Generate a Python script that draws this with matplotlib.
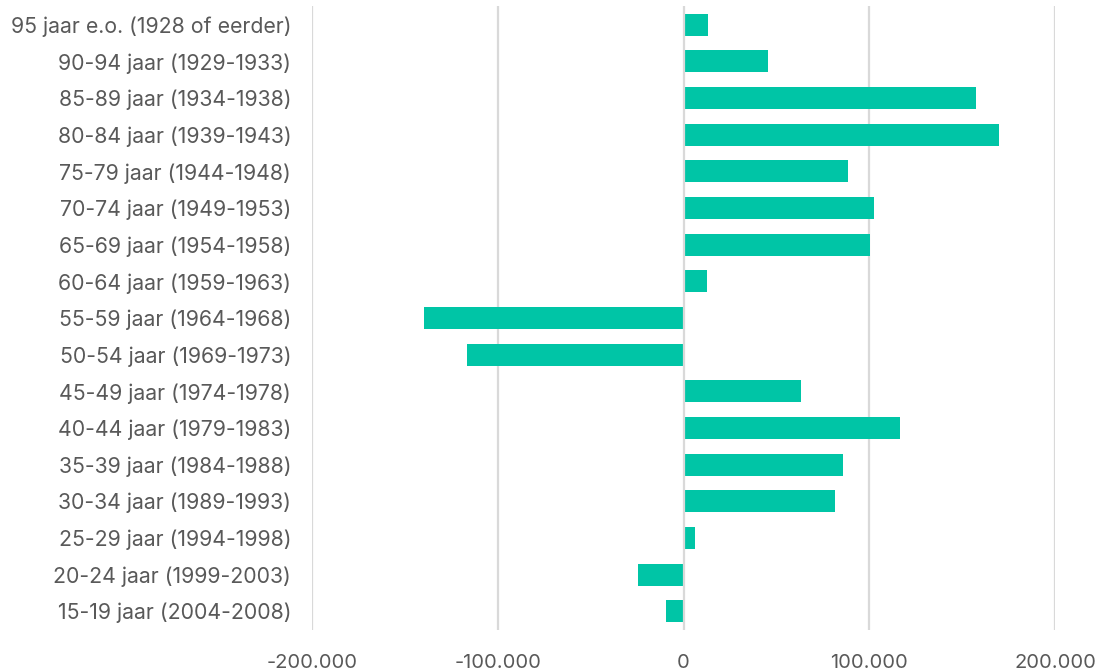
import matplotlib
matplotlib.use('Agg')
import matplotlib.pyplot as plt
from matplotlib.ticker import FuncFormatter

# leeftijdsgroepen, van oud naar jong (bovenaan eerst)
groepen = ['95 jaar e.o. (1928 of eerder)', '90-94 jaar (1929-1933)',
           '85-89 jaar (1934-1938)', '80-84 jaar (1939-1943)',
           '75-79 jaar (1944-1948)', '70-74 jaar (1949-1953)',
           '65-69 jaar (1954-1958)', '60-64 jaar (1959-1963)',
           '55-59 jaar (1964-1968)', '50-54 jaar (1969-1973)',
           '45-49 jaar (1974-1978)', '40-44 jaar (1979-1983)',
           '35-39 jaar (1984-1988)', '30-34 jaar (1989-1993)',
           '25-29 jaar (1994-1998)', '20-24 jaar (1999-2003)',
           '15-19 jaar (2004-2008)']
verschil = [13000, 45500, 157500, 170000, 88500, 102500, 100500, 12500,
            -139500, -116500, 63500, 116500, 86000, 81500, 6000,
            -24500, -9500]
xticks = [-200000, -100000, 0, 100000, 200000]

plt.rcParams['font.family'] = ['Inter', 'DejaVu Sans']
tekstkleur = '#595959'

fig = plt.figure(figsize=(10.99, 6.72), dpi=100)
ax = fig.add_axes([312 / 1099, 1 - 629.5 / 672, (1055 - 312) / 1099, (629.5 - 6.5) / 672])

pos = list(range(len(groepen)))
ax.barh(pos, verschil, height=0.6, color='#00C5A6', zorder=2)

ax.set_ylim(len(groepen) - 0.5, -0.5)
ax.set_yticks(pos)
ax.set_yticklabels(groepen)
ax.set_xlim(-200000, 200000)
ax.set_xticks(xticks)
ax.xaxis.set_major_formatter(FuncFormatter(lambda v, p: f'{int(v):,}'.replace(',', '.')))

# rasterlijnen achter de balken, de nullijn eroverheen
for x in xticks:
    ax.axvline(x, color='#d9d9d9', linewidth=1.6, zorder=3 if x == 0 else 1)

for s in ax.spines.values():
    s.set_visible(False)
ax.tick_params(axis='both', length=0, colors=tekstkleur)
ax.tick_params(axis='y', pad=15, labelsize=15.3)
ax.tick_params(axis='x', pad=18, labelsize=14.5)

plt.savefig('out.png', dpi=100)
